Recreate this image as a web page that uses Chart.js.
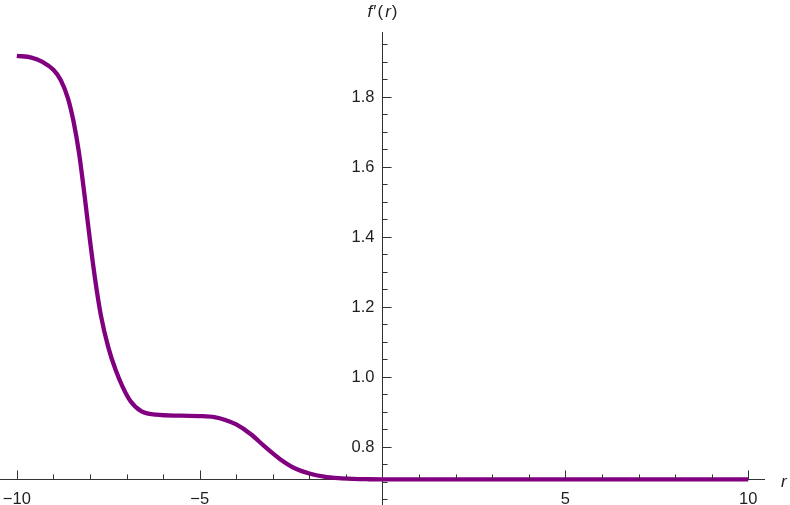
<!DOCTYPE html>
<html>
<head>
<meta charset="utf-8">
<script src="https://cdn.jsdelivr.net/npm/chart.js@4.4.1/dist/chart.umd.min.js"></script>
<style>
  html, body { margin: 0; padding: 0; background: #fff; }
  #wrap { width: 790px; height: 505px; }
</style>
</head>
<body>
<div id="wrap"><canvas id="plot"></canvas></div>
<script>
// values: r and f'(r)
var rVals = [-10.0, -9.6, -9.3, -9.0, -8.8, -8.6, -8.45, -8.3, -8.15, -8.0, -7.85, -7.7, -7.5, -7.3, -7.1, -6.9, -6.6, -6.2,
    -5.5, -5.0, -4.6, -4.3, -4.0, -3.6, -3.2, -2.8, -2.4, -2.0, -1.6, -1.2, -0.8, -0.4, 0, 2, 5, 10];
var fVals = [1.917, 1.912, 1.900, 1.877, 1.848, 1.795, 1.730, 1.640, 1.520, 1.390, 1.272, 1.175, 1.085, 1.020, 0.970, 0.932, 0.902, 0.892,
    0.889, 0.888, 0.885, 0.877, 0.864, 0.836, 0.799, 0.765, 0.739, 0.724, 0.715, 0.7105, 0.7085, 0.7076, 0.7072, 0.7071, 0.7071, 0.7071];
var xTicks = [-10, -5, 5, 10];
var yTicks = [0.8, 1.0, 1.2, 1.4, 1.6, 1.8];

var axisY = 0.7071;   // where the r axis crosses
var axisColor = '#333';
var textColor = '#1e1e1e';
var fontFamily = '"Liberation Sans", Arial, sans-serif';

var points = [];
for (var i = 0; i < rVals.length; i++) {
    points.push({ x: rVals[i], y: fVals[i] })
}

// tick marks (pointing inward) and labels, placed with the chart's scales
var axisDecor = {
    id: 'axisDecor',
    afterDraw: function (chart) {
        var ctx = chart.ctx;
        var xs = chart.scales.x, ys = chart.scales.y;
        var y0 = ys.getPixelForValue(axisY);
        var x0 = xs.getPixelForValue(0);
        ctx.save();
        ctx.strokeStyle = axisColor;
        ctx.lineWidth = 1;
        ctx.beginPath();
        for (var r = -10; r <= 10; r++) {
            if (r == 0) continue;
            var px = Math.round(xs.getPixelForValue(r)) + 0.5;
            var len = (r % 5 == 0) ? 9 : 5;
            ctx.moveTo(px, y0);
            ctx.lineTo(px, y0 - len);
        }
        for (var k = 13; k <= 39; k++) {
            var v = k * 0.05;
            if (v > ys.max) break;
            var py = Math.round(ys.getPixelForValue(v)) + 0.5;
            var major = (k % 4 == 0);
            ctx.moveTo(x0, py);
            ctx.lineTo(x0 + (major ? 9 : 5), py);
        }
        ctx.stroke();

        // tick labels
        ctx.fillStyle = textColor;
        ctx.font = '16.5px ' + fontFamily;
        ctx.textBaseline = 'middle';
        ctx.textAlign = 'center';
        xTicks.forEach(function (t) {
            var lbl = t < 0 ? '\u2212' + Math.abs(t) : String(t);
            ctx.fillText(lbl, xs.getPixelForValue(t), y0 + 20);
        })
        ctx.textAlign = 'right';
        yTicks.forEach(function (t) {
            ctx.fillText(t.toFixed(1), x0 - 8, ys.getPixelForValue(t) + 1);
        })

        // axis labels
        ctx.textAlign = 'left';
        var parts = [['f', 'italic'], ['\u2032', 'normal'], ['(', 'normal'], ['r', 'italic'], [')', 'normal']];
        var gap = { 'f': 1, '\u2032': 1, '(': 2, 'r': 1, ')': 0 };
        var total = 0;
        parts.forEach(function (p) {
            ctx.font = p[1] + ' 17px ' + fontFamily;
            total += ctx.measureText(p[0]).width + gap[p[0]];
        })
        var cx = x0 - total / 2;
        parts.forEach(function (p) {
            ctx.font = p[1] + ' 17px ' + fontFamily;
            ctx.fillText(p[0], cx, 12);
            cx += ctx.measureText(p[0]).width + gap[p[0]];
        })
        ctx.font = 'italic 17px ' + fontFamily;
        ctx.fillText('r', 781, y0 + 3);
        ctx.restore();
    }
}

new Chart(document.getElementById('plot'), {
    type: 'line',
    data: {
        datasets: [{
            data: points,
            borderColor: '#800080',
            borderWidth: 4.3,
            pointRadius: 0,
            fill: false,
            cubicInterpolationMode: 'monotone'
        }]
    },
    options: {
        responsive: true,
        maintainAspectRatio: false,
        animation: false,
        layout: { padding: { top: 32, right: 26, left: 0, bottom: 0 } },
        plugins: { legend: { display: false }, tooltip: { enabled: false } },
        scales: {
            x: {
                type: 'linear',
                min: -10.46,
                max: 10.43,
                position: { y: axisY },
                z: 1,
                grid: { display: false, drawTicks: false },
                border: { display: true, color: axisColor, width: 1 },
                ticks: { display: false }
            },
            y: {
                type: 'linear',
                min: 0.634,
                max: 1.985,
                position: { x: 0 },
                z: 1,
                grid: { display: false, drawTicks: false },
                border: { display: true, color: axisColor, width: 1 },
                ticks: { display: false }
            }
        }
    },
    plugins: [axisDecor]
})
</script>
</body>
</html>
